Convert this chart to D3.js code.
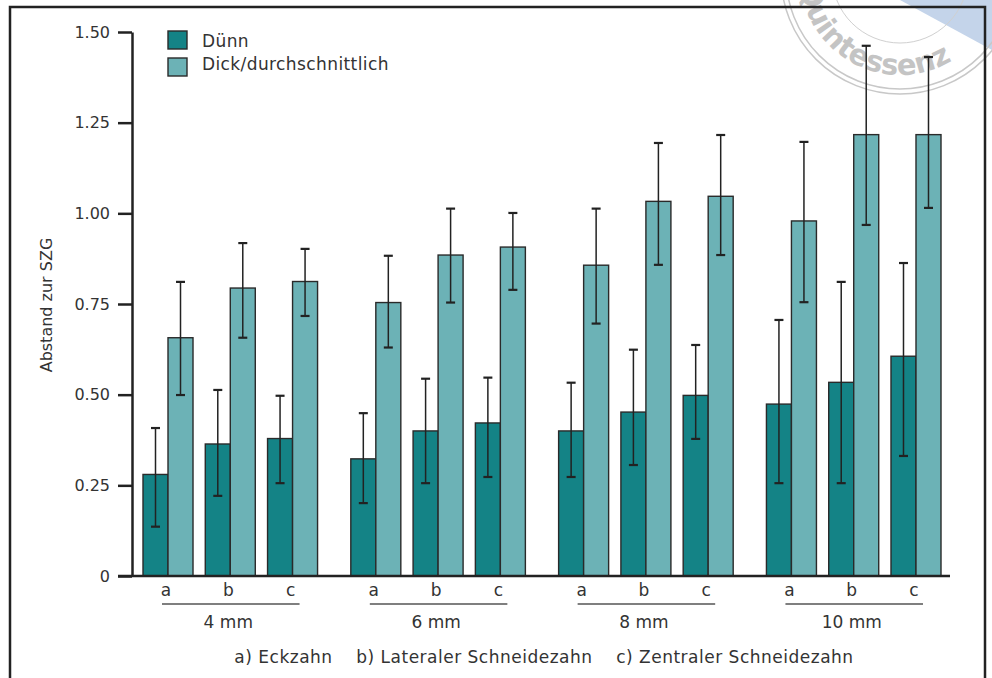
<!DOCTYPE html>
<html>
<head>
<meta charset="utf-8">
<script src="https://cdn.jsdelivr.net/npm/d3@7"></script>
<style>
  html, body { margin: 0; padding: 0; background: #fff; }
  svg { display: block; }
  text { font-family: "DejaVu Sans", sans-serif; fill: #333; }
</style>
</head>
<body>
<svg id="chart" width="992" height="678"></svg>
<script>
// ---------- data ----------
const groups = ["4 mm", "6 mm", "8 mm", "10 mm"];
const teeth = ["a", "b", "c"];
const seriesNames = ["Dünn", "Dick/durchschnittlich"];
const yTicks = [0, 0.25, 0.5, 0.75, 1.0, 1.25, 1.5];
const yTickLabels = ["0", "0.25", "0.50", "0.75", "1.00", "1.25", "1.50"];
const thinMean  = [0.280, 0.364, 0.379, 0.323, 0.400, 0.422, 0.400, 0.452, 0.498, 0.474, 0.534, 0.606];
const thinLow   = [0.136, 0.221, 0.256, 0.201, 0.256, 0.273, 0.273, 0.306, 0.378, 0.256, 0.256, 0.331];
const thinHigh  = [0.408, 0.513, 0.497, 0.449, 0.544, 0.547, 0.533, 0.624, 0.637, 0.706, 0.811, 0.863];
const thickMean = [0.657, 0.794, 0.812, 0.754, 0.885, 0.907, 0.857, 1.033, 1.047, 0.979, 1.217, 1.217];
const thickLow  = [0.499, 0.657, 0.717, 0.630, 0.754, 0.789, 0.696, 0.858, 0.885, 0.755, 0.968, 1.015];
const thickHigh = [0.811, 0.918, 0.902, 0.883, 1.013, 1.001, 1.013, 1.194, 1.216, 1.197, 1.462, 1.431];
const yLabel = "Abstand zur SZG";
const footnote = "a) Eckzahn    b) Lateraler Schneidezahn    c) Zentraler Schneidezahn";
const colors = ["#148386", "#6cb2b6"];

// ---------- build rows ----------
const rows = [];
groups.forEach((g, gi) => teeth.forEach((t, ti) => {
  const i = gi * 3 + ti;
  rows.push({ g, t, series: 0, mean: thinMean[i], lo: thinLow[i], hi: thinHigh[i] });
  rows.push({ g, t, series: 1, mean: thickMean[i], lo: thickLow[i], hi: thickHigh[i] });
}));

const svg = d3.select("#chart");

// ---------- watermark ----------
const wm = svg.append("g");
wm.append("path")
  .attr("d", "M900,0 L992,0 L992,50 Z")
  .attr("fill", "#c4d4ea");
const wcx = 900, wcy = -25;
[119, 114].forEach(r => wm.append("circle").attr("cx", wcx).attr("cy", wcy).attr("r", r)
  .attr("fill", "none").attr("stroke", "#c8c8c8").attr("stroke-width", 1.5));
wm.append("circle").attr("cx", wcx).attr("cy", wcy).attr("r", 68)
  .attr("fill", "none").attr("stroke", "#d0d0d0").attr("stroke-width", 1);
const R = 100;
const a0 = 174 * Math.PI / 180, a1 = 20 * Math.PI / 180;
wm.append("path").attr("id", "wmarc").attr("fill", "none")
  .attr("d", `M${wcx + R * Math.cos(a0)},${wcy + R * Math.sin(a0)} A${R},${R} 0 0 0 ${wcx + R * Math.cos(a1)},${wcy + R * Math.sin(a1)}`);
wm.append("text").style("font-family", "DejaVu Sans").style("font-weight", "bold")
  .style("font-size", "29px").style("fill", "#c4c4c4")
  .append("textPath").attr("href", "#wmarc").attr("startOffset", "0")
  .text("Quintessenz");

// ---------- frame ----------
svg.append("rect").attr("x", 10).attr("y", 7).attr("width", 975).attr("height", 700)
  .attr("fill", "none").attr("stroke", "#222").attr("stroke-width", 2.5);

// ---------- scales ----------
const y = d3.scaleLinear().domain([0, 1.5]).range([576, 32]);
const x0 = d3.scaleBand().domain(groups).range([143, 941]).paddingInner(0.16).paddingOuter(0);
const x1 = d3.scaleBand().domain(teeth).range([0, x0.bandwidth()]).paddingInner(0.197).paddingOuter(0);
const x2 = d3.scaleBand().domain([0, 1]).range([0, x1.bandwidth()]).padding(0);

// ---------- y axis ----------
const yAxis = d3.axisLeft(y).tickValues(yTicks)
  .tickFormat((d, i) => yTickLabels[i]).tickSize(14).tickPadding(8).tickSizeOuter(0);
const gy = svg.append("g").attr("transform", "translate(132,0)").call(yAxis);
gy.select(".domain").attr("stroke", "#222").attr("stroke-width", 2.5);
gy.selectAll(".tick line").attr("stroke", "#222").attr("stroke-width", 2.5);
gy.selectAll(".tick text").style("font-size", "16px").style("font-family", "DejaVu Sans, sans-serif").attr("fill", "#333");

svg.append("text").attr("transform", "translate(52,305) rotate(-90)")
  .attr("text-anchor", "middle").style("font-size", "16px").text(yLabel);

// ---------- bars ----------
const barX = d => x0(d.g) + x1(d.t) + x2(d.series);
svg.append("g").selectAll("rect").data(rows).join("rect")
  .attr("x", barX).attr("y", d => y(d.mean))
  .attr("width", x2.bandwidth()).attr("height", d => y(0) - y(d.mean))
  .attr("fill", d => colors[d.series]).attr("stroke", "#2a2a2a").attr("stroke-width", 1.4);

// ---------- x baseline ----------
svg.append("line").attr("x1", 118).attr("x2", 950).attr("y1", y(0)).attr("y2", y(0))
  .attr("stroke", "#222").attr("stroke-width", 2.5);

// ---------- error bars ----------
const eg = svg.append("g").attr("stroke", "#222");
const cx = d => barX(d) + x2.bandwidth() / 2;
eg.selectAll("line.v").data(rows).join("line").attr("class", "v")
  .attr("x1", cx).attr("x2", cx).attr("y1", d => y(d.hi)).attr("y2", d => y(d.lo))
  .attr("stroke-width", 1.5);
eg.selectAll("line.hi").data(rows).join("line").attr("class", "hi")
  .attr("x1", d => cx(d) - 4.5).attr("x2", d => cx(d) + 4.5)
  .attr("y1", d => y(d.hi)).attr("y2", d => y(d.hi)).attr("stroke-width", 2.2);
eg.selectAll("line.lo").data(rows).join("line").attr("class", "lo")
  .attr("x1", d => cx(d) - 4.5).attr("x2", d => cx(d) + 4.5)
  .attr("y1", d => y(d.lo)).attr("y2", d => y(d.lo)).attr("stroke-width", 2.2);

// ---------- x labels ----------
const xl = svg.append("g");
groups.forEach(g => {
  teeth.forEach(t => {
    xl.append("text").attr("x", x0(g) + x1(t) + x1.bandwidth() / 2 - 2).attr("y", 596)
      .attr("text-anchor", "middle").style("font-size", "17px").text(t);
  });
  const xa = x0(g) + x1("a") + x1.bandwidth() / 2 - 6;
  const xc = x0(g) + x1("c") + x1.bandwidth() / 2 + 7;
  xl.append("line").attr("x1", xa).attr("x2", xc).attr("y1", 604).attr("y2", 604)
    .attr("stroke", "#555").attr("stroke-width", 1.6);
  xl.append("text").attr("x", x0(g) + x0.bandwidth() / 2 - 2).attr("y", 628)
    .attr("text-anchor", "middle").style("font-size", "17px").text(g);
});

svg.append("text").attr("x", 544).attr("y", 663).attr("text-anchor", "middle")
  .style("font-size", "17px").style("letter-spacing", "0.5px")
  .style("white-space", "pre").attr("xml:space", "preserve").text(footnote);

// ---------- legend ----------
const lg = svg.append("g");
seriesNames.forEach((n, i) => {
  lg.append("rect").attr("x", 168).attr("y", 31 + i * 27).attr("width", 19).attr("height", 18)
    .attr("fill", colors[i]).attr("stroke", "#2a2a2a").attr("stroke-width", 1.4);
  lg.append("text").attr("x", 202).attr("y", 47 + i * 23).style("font-size", "17px")
    .style("letter-spacing", "0.4px").text(n);
});
</script>
</body>
</html>
